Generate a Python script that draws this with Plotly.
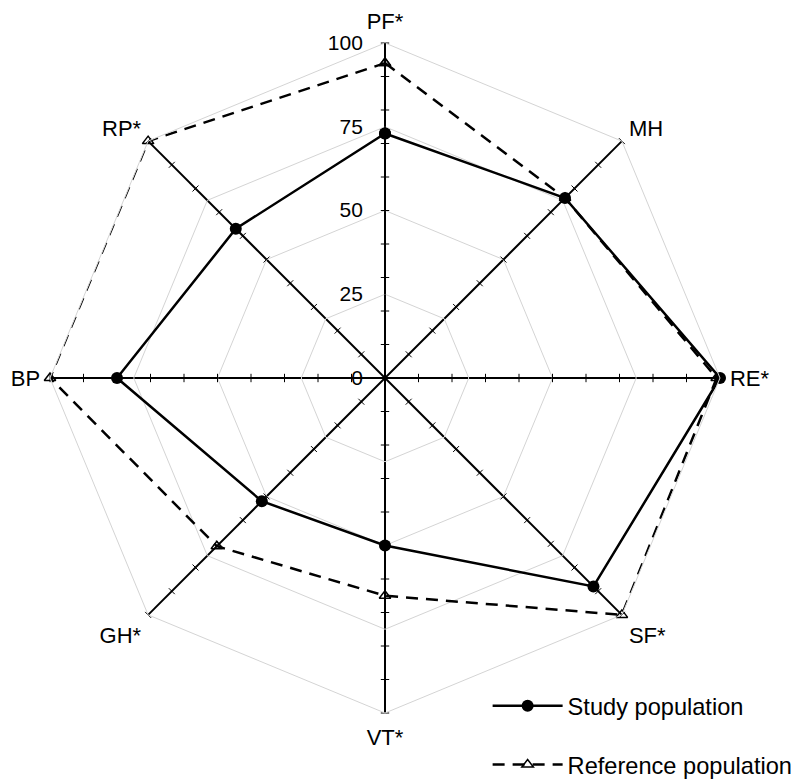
import plotly.graph_objects as go

categories = ["PF*", "MH", "RE*", "SF*", "VT*", "GH*", "BP", "RP*"]
study = [73, 76, 100, 88, 50, 52, 80, 63]
reference = [94, 76, 99, 100, 65, 71, 100, 100]
radial_ticks = [0, 25, 50, 75, 100]
spoke_ticks = [10, 20, 30, 40, 50, 60, 70, 80, 90, 100]

FONT = "Liberation Sans, Arial, sans-serif"
W, H = 792, 779  # page body has an 8px margin
CX, CY, R = 377, 370, 335

fig = go.Figure()

# tick marks on each spoke
tk_theta, tk_r, tk_angle = [], [], []
for i, c in enumerate(categories):
    for r in spoke_ticks:
        tk_theta.append(c)
        tk_r.append(r)
        tk_angle.append(i * 360 / len(categories))
fig.add_trace(go.Scatterpolar(
    r=tk_r, theta=tk_theta, mode="markers", showlegend=False, hoverinfo="skip",
    marker=dict(symbol="line-ew", size=6, angle=tk_angle,
                line=dict(color="black", width=1)),
))

fig.add_trace(go.Scatterpolar(
    r=study + study[:1], theta=categories + categories[:1],
    mode="lines+markers", name="Study population", legendgroup="a",
    line=dict(color="black", width=2.5),
    marker=dict(symbol="circle", size=12, color="black"),
))
fig.add_trace(go.Scatterpolar(
    r=reference + reference[:1], theta=categories + categories[:1],
    mode="lines+markers", name="Reference population", legendgroup="b",
    line=dict(color="black", width=2.5, dash="12px,8px"),
    marker=dict(symbol="triangle-up-open", size=10, color="black",
                line=dict(color="black", width=1.5)),
))

fig.update_layout(
    width=W, height=H,
    margin=dict(l=0, r=0, t=0, b=0),
    paper_bgcolor="white",
    font=dict(family=FONT, color="black"),
    polar=dict(
        domain=dict(x=[(CX - R) / W, (CX + R) / W],
                    y=[1 - (CY + R) / H, 1 - (CY - R) / H]),
        gridshape="linear",
        bgcolor="white",
        angularaxis=dict(
            direction="clockwise", rotation=90,
            showgrid=True, gridcolor="black", gridwidth=1.5,
            showline=True, linecolor="#d4d4d4", linewidth=1,
            ticks="outside", ticklen=5, tickcolor="rgba(0,0,0,0)",
            tickfont=dict(size=22, family=FONT, color="black"),
        ),
        radialaxis=dict(
            range=[0, 100], angle=90, side="counterclockwise",
            tickvals=radial_ticks, ticktext=[str(v) for v in radial_ticks],
            tickangle=90,
            showgrid=True, gridcolor="#d4d4d4", gridwidth=1,
            showline=True, linecolor="black", linewidth=1.5,
            ticks="outside", ticklen=14, tickcolor="rgba(0,0,0,0)",
            tickfont=dict(size=21, family=FONT, color="black"),
        ),
    ),
    legend=dict(
        x=0.997, y=0.0, xanchor="right", yanchor="bottom",
        font=dict(size=23.6, family=FONT, color="black"),
        traceorder="grouped", tracegroupgap=25, itemwidth=70,
        bgcolor="rgba(0,0,0,0)",
    ),
)

fig.write_html("out.html")
